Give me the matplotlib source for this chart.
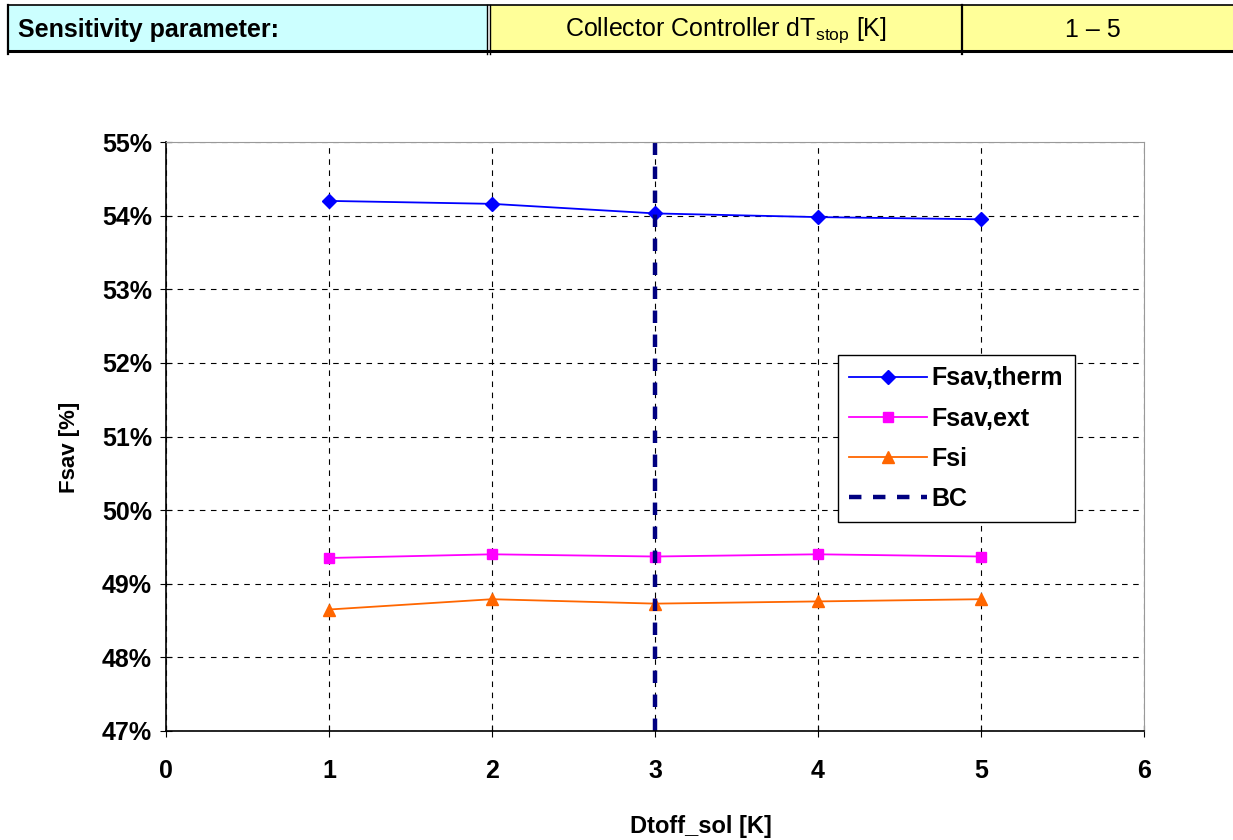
import matplotlib.pyplot as plt
import matplotlib.patches as patches
from matplotlib.ticker import PercentFormatter, MultipleLocator

plt.rcParams['font.family'] = ['Liberation Sans', 'DejaVu Sans']
plt.rcParams['mathtext.fontset'] = 'custom'
plt.rcParams['mathtext.rm'] = 'Liberation Sans'

# Data
dtoff = [1, 2, 3, 4, 5]
fsav_therm = [54.20, 54.16, 54.03, 53.98, 53.95]
fsav_ext = [49.35, 49.40, 49.37, 49.40, 49.37]
fsi = [48.65, 48.79, 48.73, 48.76, 48.79]
bc_x = 3

header_param = "Sensitivity parameter:"
header_name = "Collector Controller dT$_{\\mathrm{stop}}$ [K]"
header_range = "1 \u2013 5"

fig = plt.figure(figsize=(12.33, 8.4), dpi=100)

# Header table (figure coords from pixels)
W, H = 1233, 840
def fx(px): return px / W
def fy(py): return 1 - py / H

top, bot = 5, 51
fig.patches.append(patches.Rectangle((fx(8), fy(bot)), fx(487) - fx(8), fy(top) - fy(bot),
                                     transform=fig.transFigure, facecolor='#ccffff', edgecolor='none'))
fig.patches.append(patches.Rectangle((fx(491), fy(bot)), fx(1233) - fx(491), fy(top) - fy(bot),
                                     transform=fig.transFigure, facecolor='#ffff99', edgecolor='none'))
for x0, x1, y, lw in [(8, 1233, top, 1.2), (8, 1233, bot, 2.2)]:
    fig.add_artist(plt.Line2D([fx(x0), fx(x1)], [fy(y), fy(y)], transform=fig.transFigure, color='black', lw=lw))
for x, lw in [(8, 1.6), (487, 1.0), (490, 1.0), (962, 1.6)]:
    fig.add_artist(plt.Line2D([fx(x), fx(x)], [fy(top), fy(bot + 3)], transform=fig.transFigure, color='black', lw=lw))
fig.text(fx(18), fy(30), header_param, fontsize=18, fontweight='bold', va='center', ha='left')
fig.text(fx(726), fy(30), header_name, fontsize=18, va='center', ha='center')
fig.text(fx(1093), fy(30), header_range, fontsize=18, va='center', ha='center')

# Chart
ax = fig.add_axes([fx(166), fy(731), fx(1144) - fx(166), fy(142) - fy(731)])
ax.plot(dtoff, fsav_therm, color='#0000ff', marker='D', markersize=7, lw=1.3, label='Fsav,therm')
ax.plot(dtoff, fsav_ext, color='#ff00ff', marker='s', markersize=7, lw=1.3, label='Fsav,ext')
ax.plot(dtoff, fsi, color='#ff6600', marker='^', markersize=9, lw=1.3, label='Fsi')
ax.plot([bc_x, bc_x], [47, 55], color='#000080', lw=3.2, dashes=(2.8, 2.6), label='BC')

ax.set_xlim(0, 6)
ax.set_ylim(47, 55)
ax.xaxis.set_major_locator(MultipleLocator(1))
ax.yaxis.set_major_locator(MultipleLocator(1))
ax.yaxis.set_major_formatter(PercentFormatter(decimals=0))
ax.grid(True, color='black', linestyle=(0, (5, 5)), lw=0.8)
ax.tick_params(direction='inout', length=8, width=0.8, labelsize=18, pad=6)
for lbl in ax.get_xticklabels() + ax.get_yticklabels():
    lbl.set_fontweight('bold')
ax.tick_params(axis='x', pad=16)
for s in ['top', 'right']:
    ax.spines[s].set_color('#999999')
ax.spines['left'].set_linewidth(1.2)
ax.spines['bottom'].set_linewidth(1.2)

ax.set_xlabel("Dtoff_sol [K]", fontsize=17, fontweight='bold', va='center')
ax.xaxis.set_label_coords((701 - 166) / 978, (731 - 826) / 589)
ax.set_ylabel("Fsav [%]", fontsize=16, fontweight='bold', va='center')
ax.yaxis.set_label_coords((70 - 166) / 978, (731 - 447) / 589)

leg = ax.legend(loc='upper left', bbox_to_anchor=((838 - 166) / 978, (731 - 355) / 589),
                prop={'weight': 'bold', 'size': 18}, frameon=True, fancybox=False,
                edgecolor='black', framealpha=1, handlelength=3.1, borderpad=0.45,
                labelspacing=0.65, handletextpad=0.2, borderaxespad=0)
leg.get_frame().set_linewidth(1.0)

fig.savefig('out.png', dpi=100)
